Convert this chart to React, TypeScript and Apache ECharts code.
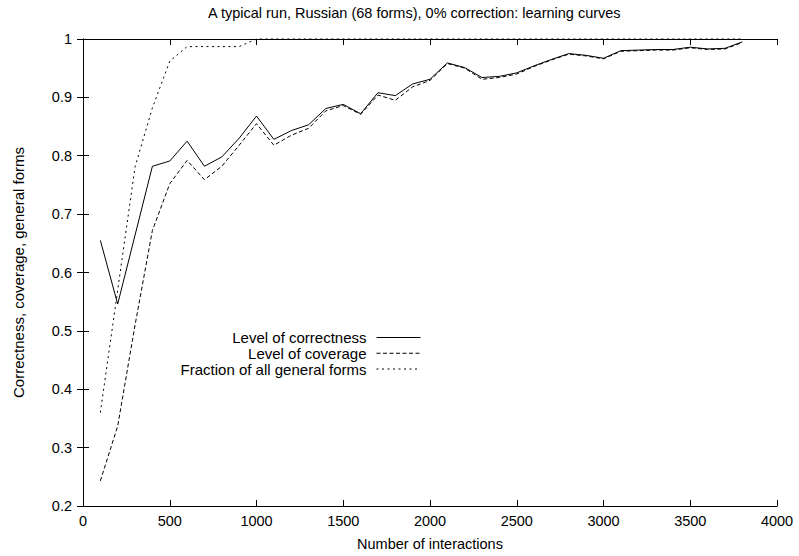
import React, { useEffect, useRef } from "react";
import * as echarts from "echarts";

const interactions = [
  100, 200, 300, 400, 500, 600, 700, 800, 900, 1000,
  1100, 1200, 1300, 1400, 1500, 1600, 1700, 1800, 1900, 2000,
  2100, 2200, 2300, 2400, 2500, 2600, 2700, 2800, 2900, 3000,
  3100, 3200, 3300, 3400, 3500, 3600, 3700, 3800,
];
const correctness = [
  0.655, 0.546, 0.664, 0.782, 0.791, 0.825, 0.782, 0.798, 0.83, 0.868,
  0.828, 0.843, 0.853, 0.881, 0.888, 0.872, 0.908, 0.903, 0.923, 0.931,
  0.959, 0.951, 0.934, 0.936, 0.942, 0.954, 0.965, 0.975, 0.972, 0.967,
  0.98, 0.981, 0.982, 0.982, 0.986, 0.983, 0.984, 0.995,
];
const coverage = [
  0.243, 0.337, 0.51, 0.672, 0.752, 0.792, 0.759, 0.782, 0.818, 0.855,
  0.818, 0.835, 0.847, 0.877, 0.886, 0.871, 0.904, 0.895, 0.918, 0.929,
  0.958, 0.95, 0.931, 0.934, 0.94, 0.953, 0.964, 0.974, 0.971, 0.966,
  0.979, 0.98, 0.981, 0.981, 0.985, 0.982, 0.983, 0.994,
];
const generalForms = [
  0.36, 0.57, 0.781, 0.882, 0.962, 0.987, 0.987, 0.987, 0.987, 1,
  1, 1, 1, 1, 1, 1, 1, 1, 1, 1,
  1, 1, 1, 1, 1, 1, 1, 1, 1, 1,
  1, 1, 1, 1, 1, 1, 1, 1,
];
const seriesNames = [
  "Level of correctness",
  "Level of coverage",
  "Fraction of all general forms",
];
const titleText = "A typical run, Russian (68 forms), 0% correction: learning curves";
const xTitle = "Number of interactions";
const yTitle = "Correctness, coverage, general forms";

const FONT = "Liberation Sans, Arial, Helvetica, sans-serif";
const FS = 14.5;

export default function App() {
  const ref = useRef<HTMLDivElement>(null);
  useEffect(() => {
    if (!ref.current) return;
    const chart = echarts.init(ref.current, undefined, { renderer: "svg" });
    const pair = (ys: number[]) => interactions.map((x, i) => [x, ys[i]]);
    const lineTypes: any[] = ["solid", [4, 2.5], [2, 3.5]];
    const datasets = [correctness, coverage, generalForms];
    const axisCommon = {
      axisLine: { show: true, lineStyle: { color: "#000", width: 1 } },
      axisTick: { show: true, inside: true, length: 6, lineStyle: { color: "#000", width: 1 } },
      splitLine: { show: false },
    };
    const legendRows = [330, 345.75, 361.5];
    chart.setOption({
      animation: false,
      backgroundColor: "#fff",
      textStyle: { fontFamily: FONT },
      title: {
        text: titleText,
        left: 208,
        top: 5,
        padding: 0,
        textStyle: { fontFamily: FONT, fontSize: FS, fontWeight: "normal", color: "#000" },
      },
      legend: seriesNames.map((n, i) => ({
        data: [n],
        orient: "vertical",
        align: "right",
        right: 378,
        top: legendRows[i],
        padding: 0,
        itemWidth: 44,
        itemHeight: 14,
        itemGap: 0,
        selectedMode: false,
        itemStyle: { opacity: 0 },
        lineStyle: { width: 1, color: "#000", type: lineTypes[i] },
        textStyle: { fontFamily: FONT, fontSize: 15, color: "#000", padding: [0, 5, 0, 0] },
      })),
      grid: { left: 83, right: 22, top: 39, bottom: 50, containLabel: false },
      xAxis: [
        {
          type: "value",
          position: "bottom",
          min: 0,
          max: 4000,
          interval: 500,
          ...axisCommon,
          axisLabel: {
            color: "#000",
            fontSize: FS,
            fontFamily: FONT,
            margin: 7,
            formatter: (v: number) => String(v),
          },
          name: xTitle,
          nameLocation: "middle",
          nameGap: 30,
          nameTextStyle: { color: "#000", fontSize: FS, fontFamily: FONT },
        },
        {
          type: "value",
          position: "top",
          min: 0,
          max: 4000,
          interval: 500,
          ...axisCommon,
          axisLabel: { show: false },
        },
      ],
      yAxis: [
        {
          type: "value",
          position: "left",
          min: 0.2,
          max: 1,
          interval: 0.1,
          ...axisCommon,
          axisLabel: {
            color: "#000",
            fontSize: FS,
            fontFamily: FONT,
            margin: 11,
            formatter: (v: number) => String(Math.round(v * 10) / 10),
          },
          name: yTitle,
          nameLocation: "middle",
          nameRotate: 90,
          nameGap: 57,
          nameTextStyle: { color: "#000", fontSize: 15, fontFamily: FONT },
        },
        {
          type: "value",
          position: "right",
          min: 0.2,
          max: 1,
          interval: 0.1,
          ...axisCommon,
          axisLabel: { show: false },
        },
      ],
      series: seriesNames.map((n, i) => ({
        name: n,
        type: "line",
        xAxisIndex: 0,
        yAxisIndex: 0,
        data: pair(datasets[i]),
        symbol: "none",
        showSymbol: false,
        clip: false,
        color: "#000",
        lineStyle: { color: "#000", width: 1, type: lineTypes[i] },
        itemStyle: { color: "#000" },
        silent: true,
      })),
    });
    return () => chart.dispose();
  }, []);
  return (
    <div
      ref={ref}
      style={{ position: "absolute", left: 0, top: 0, width: 799, height: 556 }}
    />
  );
}
